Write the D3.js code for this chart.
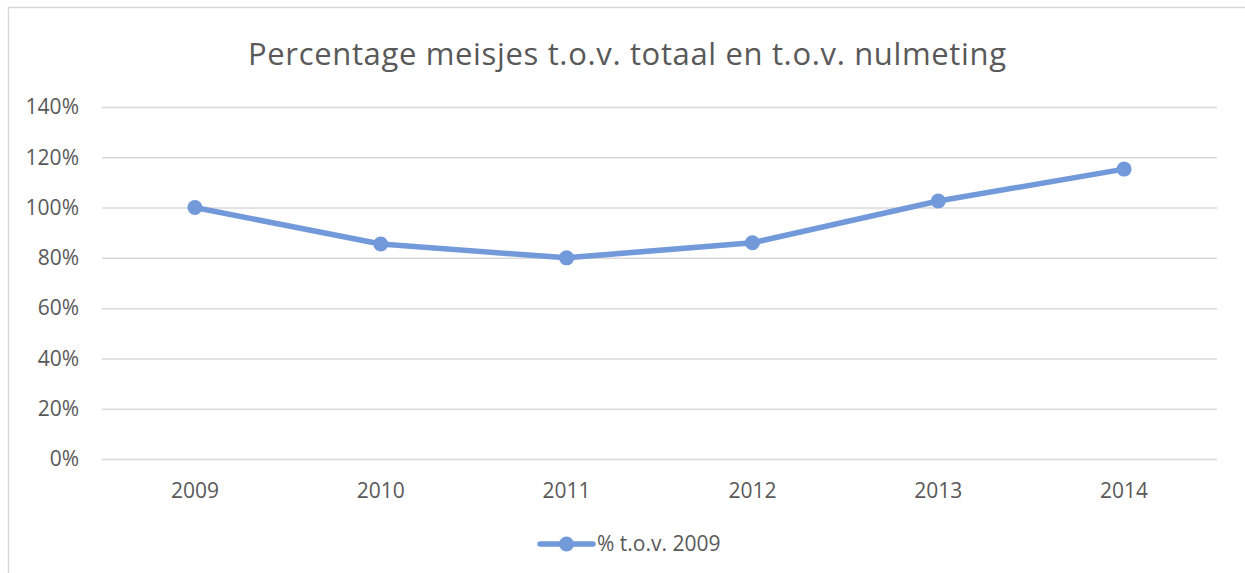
<!DOCTYPE html>
<html>
<head>
<meta charset="utf-8">
<script src="https://cdn.jsdelivr.net/npm/d3@7"></script>
<style>
  body { margin: 0; background: #fff; }
  text { font-family: "Open Sans", "Noto Sans", sans-serif; fill: #595959; }
</style>
</head>
<body>
<div id="vis"></div>
<script>
var years = ['2009', '2010', '2011', '2012', '2013', '2014'];
var pctVs2009 = [1.00, 0.855, 0.80, 0.86, 1.026, 1.153];
var yTicks = [0, 0.2, 0.4, 0.6, 0.8, 1.0, 1.2, 1.4];
var seriesName = '% t.o.v. 2009';
var chartTitle = 'Percentage meisjes t.o.v. totaal en t.o.v. nulmeting';

var width = 1245;
var height = 573;
var margin = { top: 107, right: 28, bottom: 114, left: 102 };
var lineColor = '#7299d9';

var svg = d3.select('#vis')
  .append('svg')
  .attr('width', width)
  .attr('height', height);

// chart frame (right and bottom edges fall outside the picture)
svg.append('rect')
  .attr('x', 8.5)
  .attr('y', 7.5)
  .attr('width', width + 20)
  .attr('height', height + 20)
  .attr('fill', '#fff')
  .attr('stroke', '#d9d9d9')
  .attr('stroke-width', 1.5);

var x = d3.scaleBand()
  .domain(years)
  .range([margin.left, width - margin.right]);

var y = d3.scaleLinear()
  .domain([0, 1.4])
  .range([height - margin.bottom, margin.top]);

svg.append('text')
  .attr('x', 627)
  .attr('y', 65)
  .attr('text-anchor', 'middle')
  .style('font-size', '31px')
  .attr('textLength', 758)
  .text(chartTitle);

// gridlines + y labels
var yAxis = d3.axisLeft(y)
  .tickValues(yTicks)
  .tickSize(-(width - margin.left - margin.right))
  .tickPadding(23)
  .tickFormat(d3.format('.0%'));

var gy = svg.append('g')
  .attr('transform', 'translate(' + margin.left + ',0)')
  .call(yAxis);
gy.select('.domain').remove();
gy.selectAll('.tick line').attr('stroke', '#d9d9d9').attr('stroke-width', 1.5);
gy.selectAll('.tick text').style('font-size', '21px').attr('fill', '#595959');

// x labels
var xAxis = d3.axisBottom(x).tickSize(0).tickPadding(24);
var gx = svg.append('g')
  .attr('transform', 'translate(0,' + (height - margin.bottom) + ')')
  .call(xAxis);
gx.select('.domain').remove();
gx.selectAll('.tick text').style('font-size', '21px').attr('fill', '#595959');

var cx = function (d, i) { return x(years[i]) + x.bandwidth() / 2; };

var line = d3.line()
  .x(cx)
  .y(function (d) { return y(d); });

svg.append('path')
  .datum(pctVs2009)
  .attr('d', line)
  .attr('fill', 'none')
  .attr('stroke', lineColor)
  .attr('stroke-width', 5.5)
  .attr('stroke-linejoin', 'round');

svg.selectAll('.dot')
  .data(pctVs2009)
  .enter().append('circle')
  .attr('class', 'dot')
  .attr('cx', cx)
  .attr('cy', function (d) { return y(d); })
  .attr('r', 7.5)
  .attr('fill', lineColor);

// legend
var legend = svg.append('g').attr('transform', 'translate(0,544)');
legend.append('line')
  .attr('x1', 540).attr('x2', 593)
  .attr('stroke', lineColor)
  .attr('stroke-width', 5.5)
  .attr('stroke-linecap', 'round');
legend.append('circle')
  .attr('cx', 566.5)
  .attr('r', 7.5)
  .attr('fill', lineColor);
legend.append('text')
  .attr('x', 597)
  .attr('dy', '0.35em')
  .style('font-size', '21px')
  .text(seriesName);
</script>
</body>
</html>
